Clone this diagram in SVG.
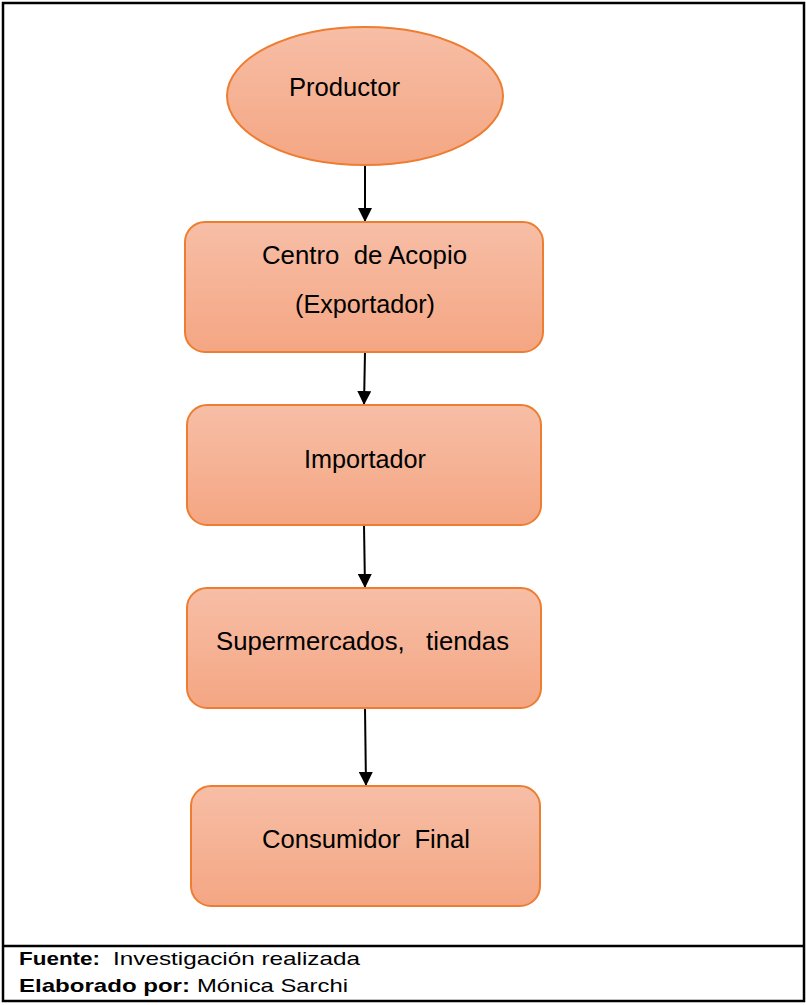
<svg xmlns="http://www.w3.org/2000/svg" width="806" height="1005" viewBox="0 0 806 1005">
<defs>
<linearGradient id="g" x1="0" y1="0" x2="0" y2="1">
<stop offset="0" stop-color="#f7bea6"/>
<stop offset="1" stop-color="#f4a683"/>
</linearGradient>
<marker id="ah" markerWidth="14" markerHeight="14" refX="14" refY="7" orient="auto" markerUnits="userSpaceOnUse">
<path d="M0,0 L14,7 L0,14 Z" fill="#000"/>
</marker>
<style>
.n{fill:url(#g);stroke:#ed7d31;stroke-width:2}
.t{font-family:"Liberation Sans",Arial,sans-serif;font-size:25px;fill:#000;white-space:pre}
.c{stroke:#000;stroke-width:2;fill:none}
.f{font-family:"Liberation Sans",Arial,sans-serif;font-size:19px;fill:#000;white-space:pre}
.b{font-weight:bold}
</style>
</defs>
<rect x="0" y="0" width="806" height="1005" fill="#fff"/>
<g id="frame" fill="none" stroke="#000" stroke-width="2.5">
<rect x="3" y="3" width="801" height="998"/>
<line x1="3" y1="946" x2="804" y2="946"/>
</g>
<g id="connectors">
<line class="c" x1="365" y1="165" x2="365" y2="222" marker-end="url(#ah)"/>
<line class="c" x1="365" y1="352" x2="364" y2="405" marker-end="url(#ah)"/>
<line class="c" x1="364" y1="525" x2="365" y2="588" marker-end="url(#ah)"/>
<line class="c" x1="365" y1="708" x2="366" y2="786" marker-end="url(#ah)"/>
</g>
<g id="productor">
<ellipse class="n" cx="365" cy="96" rx="138" ry="69"/>
<text class="t" x="289" y="96" textLength="111" lengthAdjust="spacingAndGlyphs">Productor</text>
</g>
<g id="centro">
<rect class="n" x="185" y="222" width="358" height="130" rx="20"/>
<text class="t" x="262" y="264" textLength="205" lengthAdjust="spacingAndGlyphs">Centro  de Acopio</text>
<text class="t" x="295" y="313" textLength="140" lengthAdjust="spacingAndGlyphs">(Exportador)</text>
</g>
<g id="importador">
<rect class="n" x="187" y="405" width="354" height="120" rx="20"/>
<text class="t" x="304" y="468" textLength="122" lengthAdjust="spacingAndGlyphs">Importador</text>
</g>
<g id="supermercados">
<rect class="n" x="187" y="588" width="354" height="120" rx="20"/>
<text class="t" x="216" y="650" textLength="293" lengthAdjust="spacingAndGlyphs">Supermercados,   tiendas</text>
</g>
<g id="consumidor">
<rect class="n" x="191" y="786" width="349" height="120" rx="20"/>
<text class="t" x="262" y="848" textLength="208" lengthAdjust="spacingAndGlyphs">Consumidor  Final</text>
</g>
<g id="footer">
<text class="f b" x="19" y="965" textLength="81" lengthAdjust="spacingAndGlyphs">Fuente:</text>
<text class="f" x="113" y="965" textLength="247" lengthAdjust="spacingAndGlyphs">Investigación realizada</text>
<text class="f b" x="19" y="992" textLength="171" lengthAdjust="spacingAndGlyphs">Elaborado por:</text>
<text class="f" x="197" y="992" textLength="151" lengthAdjust="spacingAndGlyphs">Mónica Sarchi</text>
</g>
</svg>
